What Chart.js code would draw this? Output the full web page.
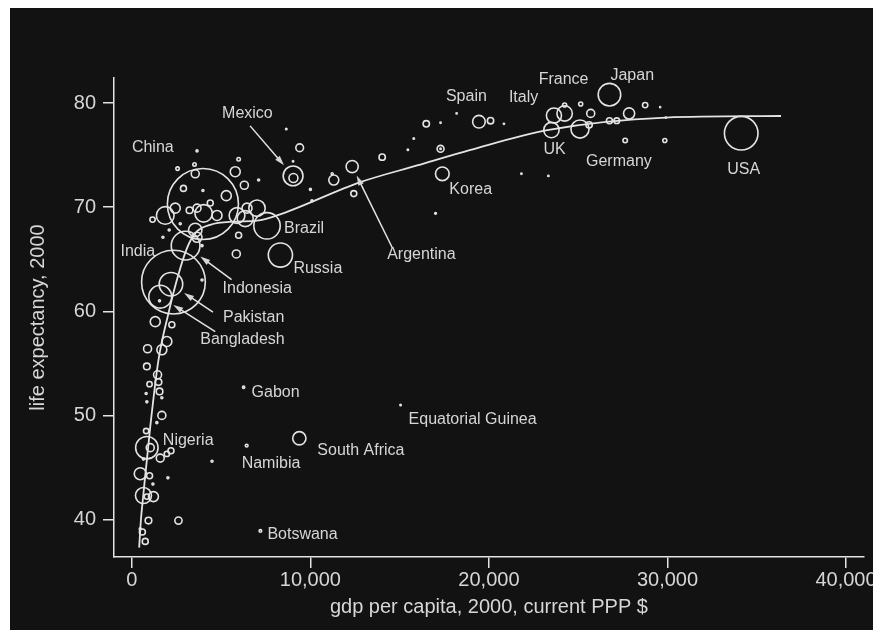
<!DOCTYPE html>
<html>
<head>
<meta charset="utf-8">
<script src="https://cdn.jsdelivr.net/npm/chart.js@4.4.1/dist/chart.umd.min.js"></script>
<style>
  html, body { margin: 0; background: #fff; overflow: hidden; width: 873px; height: 630px; }
  /* the box runs past the right edge so the last tick label may overhang like the original */
  #wrap { position: absolute; left: 10px; top: 8px; width: 891px; height: 622px; background: #121212; }
</style>
</head>
<body>
<div id="wrap"><canvas id="chart"></canvas></div>
<script>
// countries: gdp per capita (PPP $), life expectancy, population (millions)
const names = ['China','India','USA','Indonesia','Brazil','Russia','Pakistan','Bangladesh','Japan','Nigeria',
  'Mexico','Germany','France','UK','Italy','Korea','South Africa','Spain','Argentina','Gabon',
  'Namibia','Equatorial Guinea','Botswana'];
const gdp = [3980,2330,34130,3010,7570,8320,2190,1590,26750,840,
  9030,25100,24240,23500,23640,17390,9380,19440,12340,6260,
  6430,15050,7200,
  // unlabeled
  24240,25140,25700,25610,26750,27160,27850,28750,29590,29910,27630,29850,
  20090,20840,18190,17290,16490,15790,15460,17290,17290,14020,21820,23330,17010,
  8650,9400,5790,5980,7100,9030,10000,10090,11310,11220,12430,9050,
  3650,3550,2560,3510,6300,5290,2890,3980,1870,2430,3230,3650,4020,4770,5890,6450,7010,6350,
  1160,1740,2090,5980,5850,3930,3550,3650,2710,4390,
  1310,2240,1960,1680,880,840,3930,1550,
  1440,1490,990,1550,800,840,1680,1680,1400,800,1030,2190,1960,1590,650,470,990,1180,2020,
  650,1210,840,930,2610,470,590,750,4490];
const life = [70.3,62.8,77.1,66.3,68.2,65.4,62.6,61.4,80.8,46.9,
  73.0,77.5,79.0,77.4,78.8,73.2,47.8,78.2,73.9,52.7,
  47.1,51.0,38.9,
  79.8,79.9,79.0,77.9,78.3,78.3,79.0,79.8,79.6,78.6,76.4,76.4,
  78.3,78.0,79.0,78.1,78.0,76.6,75.5,75.6,75.6,74.8,73.2,73.0,69.4,
  77.5,75.7,73.4,74.6,72.6,74.4,71.7,70.6,72.6,73.2,71.3,72.8,
  75.4,73.2,73.7,74.1,72.1,71.1,71.8,71.6,69.2,69.9,69.7,69.9,69.4,69.2,69.2,69.9,69.9,68.9,
  68.8,67.1,67.8,67.3,65.5,66.3,67.8,67.1,68.4,70.4,
  59.0,58.7,57.1,56.3,56.4,54.7,63.0,61.0,
  53.9,53.2,53.0,52.3,52.1,51.3,51.7,50.0,49.3,48.5,46.9,46.6,46.3,45.9,45.8,44.4,44.2,43.4,44.0,
  42.3,42.2,42.2,39.9,39.9,39.1,38.8,37.9,45.6];
const pop = [1262,1016,282,206,174,146,138,131,127,126,
  98,82,59,59,57,47,44,40,37,1.2,
  1.9,0.5,1.7,
  4,4,16,10,9,8,31,7,0.3,0.4,5,4,
  10,0.4,0.4,0.4,10,0.5,0.5,12,0.5,10,0.4,0.4,0.8,
  0.5,15,25,3,1,0.5,1,1,25,1,9,20,
  1,16,3,3,16,25,9,1,78,25,11,16,76,25,62,25,67,64,
  7,1,1,9,16,1,45,25,1,9,
  25,9,25,25,16,11,1,1,
  16,11,7,11,1,1,1,16,1,7,16,9,7,16,1,36,9,1,1,
  64,25,7,11,13,1,9,9,1];

// smoothed trend line
const trendGdp = [410,505,650,1030,1490,2050,2520,3050,3550,4390,5700,7010,8130,12800,15980,18970,23270,29910,36360];
const trendLife = [37.3,39.9,42.5,48.9,55.3,59.8,63.0,65.9,67.5,68.3,68.6,68.7,69.2,72.4,74.0,75.5,77.4,78.6,78.75];

const xTicks = [0,10000,20000,30000,40000];
const yTicks = [40,50,60,70,80];

// label placement (pixel offsets from the bubble centre), arrows where the original has them
const labels = [
  {name:'China', dx:-71, dy:-56},
  {name:'India', dx:-53, dy:-31},
  {name:'Indonesia', dx:37, dy:43, arrow:[46,34]},
  {name:'Pakistan', dx:52, dy:33, arrow:[42,28]},
  {name:'Bangladesh', dx:40, dy:43, arrow:[55,35]},
  {name:'Brazil', dx:17, dy:3},
  {name:'Russia', dx:13, dy:14},
  {name:'Mexico', dx:-71, dy:-62, arrow:[-43,-50]},
  {name:'Argentina', dx:35, dy:88, arrow:[40,81]},
  {name:'Korea', dx:7, dy:16},
  {name:'Spain', dx:-33, dy:-25},
  {name:'Italy', dx:-45, dy:-18},
  {name:'France', dx:-26, dy:-34},
  {name:'Japan', dx:1, dy:-19},
  {name:'UK', dx:-8, dy:20},
  {name:'Germany', dx:6, dy:33},
  {name:'USA', dx:-14, dy:36},
  {name:'Nigeria', dx:16, dy:-7},
  {name:'Gabon', dx:8, dy:5},
  {name:'Namibia', dx:-5, dy:18},
  {name:'South Africa', dx:18, dy:12},
  {name:'Equatorial Guinea', dx:8, dy:15},
  {name:'Botswana', dx:7, dy:4}
];

const ink = '#e4e4e4';
const textInk = '#d6d6d6';
const family = '"Liberation Sans", Arial, sans-serif';

const labelPlugin = {
  id: 'countryLabels',
  afterDatasetsDraw(chart) {
    const {ctx, scales: {x, y}} = chart;
    ctx.save();
    ctx.font = '16px ' + family;
    ctx.fillStyle = textInk;
    ctx.strokeStyle = ink;
    ctx.lineWidth = 1.5;
    ctx.textAlign = 'left';
    ctx.textBaseline = 'middle';
    labels.forEach(l => {
      const i = names.indexOf(l.name);
      const px = x.getPixelForValue(gdp[i]);
      const py = y.getPixelForValue(life[i]);
      ctx.fillText(l.name, px + l.dx, py + l.dy);
      if (l.arrow) {
        const tx = px + l.arrow[0], ty = py + l.arrow[1];
        const vx = px - tx, vy = py - ty;
        const len = Math.hypot(vx, vy);
        const ux = vx / len, uy = vy / len;
        const stop = len - (Math.sqrt(pop[i]) + 4);
        const hx = tx + ux * stop, hy = ty + uy * stop;
        ctx.beginPath();
        ctx.moveTo(tx, ty);
        ctx.lineTo(hx - ux * 6, hy - uy * 6);
        ctx.stroke();
        ctx.beginPath();
        ctx.moveTo(hx, hy);
        ctx.lineTo(hx - ux * 10 - uy * 3, hy - uy * 10 + ux * 3);
        ctx.lineTo(hx - ux * 10 + uy * 3, hy - uy * 10 - ux * 3);
        ctx.closePath();
        ctx.fill();
      }
    });
    ctx.restore();
  }
};

new Chart(document.getElementById('chart'), {
  type: 'bubble',
  data: {
    datasets: [
      {
        type: 'line',
        data: trendGdp.map((g, i) => ({x: g, y: trendLife[i]})),
        borderColor: ink,
        borderWidth: 1.8,
        pointRadius: 0,
        tension: 0.4,
        cubicInterpolationMode: 'monotone',
        fill: false,
        order: 0
      },
      {
        data: gdp.map((g, i) => ({x: g, y: life[i], r: Math.sqrt(pop[i])})),
        backgroundColor: 'rgba(0,0,0,0)',
        borderColor: ink,
        borderWidth: 1.6,
        order: 1
      }
    ]
  },
  options: {
    responsive: true,
    maintainAspectRatio: false,
    animation: false,
    events: [],
    layout: { padding: { top: 70, right: 10, left: 0, bottom: 0 } },
    plugins: { legend: { display: false }, tooltip: { enabled: false } },
    scales: {
      x: {
        type: 'linear', min: -1000, max: 41000,
        afterFit: s => { s.height = 73; },
        afterBuildTicks: s => { s.ticks = xTicks.map(v => ({value: v})); },
        grid: { drawOnChartArea: false, drawTicks: true, tickLength: 11, color: ink, lineWidth: 1.5 },
        border: { display: true, color: ink, width: 1.5 },
        ticks: { color: textInk, padding: 0, font: { family: family, size: 20 },
                 callback: v => v.toLocaleString('en-US') },
        title: { display: true, text: 'gdp per capita, 2000, current PPP $', color: textInk,
                 font: { family: family, size: 20 }, padding: { top: 0, bottom: 11 } }
      },
      y: {
        type: 'linear', min: 36.4, max: 82.4,
        afterFit: s => { s.width = 104; },
        afterBuildTicks: s => { s.ticks = yTicks.map(v => ({value: v})); },
        grid: { drawOnChartArea: false, drawTicks: true, tickLength: 11, color: ink, lineWidth: 1.5 },
        border: { display: true, color: ink, width: 1.5 },
        ticks: { color: textInk, padding: 7, font: { family: family, size: 20 } },
        title: { display: true, text: 'life expectancy, 2000', color: textInk,
                 font: { family: family, size: 20 }, padding: { top: 16, bottom: 0 } }
      }
    }
  },
  plugins: [labelPlugin]
});
</script>
</body>
</html>
